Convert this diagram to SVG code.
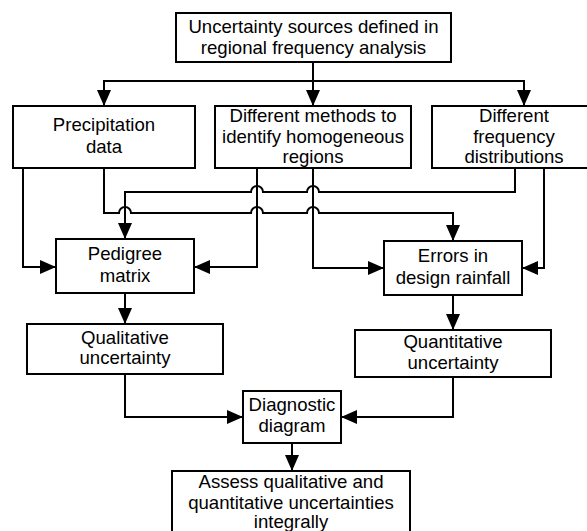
<svg xmlns="http://www.w3.org/2000/svg" width="587" height="531" viewBox="0 0 587 531">
<defs>
<style>
.box{fill:#fff;stroke:#000;stroke-width:2}
.t{font-family:"Liberation Sans",Arial,sans-serif;font-size:18.6px;fill:#000;text-anchor:middle}
.c{fill:none;stroke:#000;stroke-width:2}
.a{marker-end:url(#ah)}
</style>
<marker id="ah" viewBox="0 0 16 14" refX="16" refY="7" markerWidth="16" markerHeight="14" markerUnits="userSpaceOnUse" orient="auto">
<path d="M0,0 L16,7 L0,14 z" fill="#000"/>
</marker>
</defs>
<rect width="587" height="531" fill="#fff"/>
<g id="connectors">
<path class="c a" d="M313,62 V106"/>
<path class="c a" d="M313,81 H104 V106"/>
<path class="c a" d="M313,81 H524 V106"/>
<path class="c a" d="M23,168 V267 H56"/>
<path class="c a" d="M104,168 V213 H119 A6,6 0 0 1 131,213 H251 A6,6 0 0 1 263,213 H307 A6,6 0 0 1 319,213 H453 V241"/>
<path class="c a" d="M515,168 V192 H319 A6,6 0 0 0 307,192 H263 A6,6 0 0 0 251,192 H125 V239"/>
<path class="c a" d="M257,168 V267 H194"/>
<path class="c a" d="M313,168 V268 H384"/>
<path class="c a" d="M544,168 V268 H522"/>
<path class="c a" d="M125,293 V324"/>
<path class="c a" d="M453,295 V330"/>
<path class="c a" d="M125,374 V417 H243"/>
<path class="c a" d="M453,377 V417 H341"/>
<path class="c a" d="M292,443 V471"/>
</g>
<g id="n-top">
<rect class="box" x="176" y="13" width="275" height="49"/>
<text class="t" x="313.5" y="33">Uncertainty sources defined in</text>
<text class="t" x="313.5" y="54">regional frequency analysis</text>
</g>
<g id="n-precip">
<rect class="box" x="13" y="106" width="182" height="62"/>
<text class="t" x="104" y="131">Precipitation</text>
<text class="t" x="104" y="153">data</text>
</g>
<g id="n-methods">
<rect class="box" x="215" y="106" width="196" height="62"/>
<text class="t" x="313" y="122">Different methods to</text>
<text class="t" x="313" y="143">identify homogeneous</text>
<text class="t" x="313" y="163">regions</text>
</g>
<g id="n-freq">
<rect class="box" x="432" y="106" width="165" height="62"/>
<text class="t" x="514" y="122">Different</text>
<text class="t" x="514" y="143">frequency</text>
<text class="t" x="514" y="163">distributions</text>
</g>
<g id="n-pedigree">
<rect class="box" x="56" y="239" width="138" height="54"/>
<text class="t" x="125" y="260">Pedigree</text>
<text class="t" x="125" y="282">matrix</text>
</g>
<g id="n-errors">
<rect class="box" x="384" y="241" width="138" height="54"/>
<text class="t" x="453" y="262">Errors in</text>
<text class="t" x="453" y="284">design rainfall</text>
</g>
<g id="n-qual">
<rect class="box" x="27" y="324" width="196" height="50"/>
<text class="t" x="125" y="344">Qualitative</text>
<text class="t" x="125" y="364">uncertainty</text>
</g>
<g id="n-quant">
<rect class="box" x="355" y="330" width="196" height="47"/>
<text class="t" x="453" y="348">Quantitative</text>
<text class="t" x="453" y="369">uncertainty</text>
</g>
<g id="n-diag">
<rect class="box" x="243" y="391" width="98" height="52"/>
<text class="t" x="292" y="411">Diagnostic</text>
<text class="t" x="292" y="432">diagram</text>
</g>
<g id="n-assess">
<rect class="box" x="172" y="471" width="238" height="66"/>
<text class="t" x="291" y="488">Assess qualitative and</text>
<text class="t" x="291" y="509">quantitative uncertainties</text>
<text class="t" x="291" y="528">integrally</text>
</g>
</svg>
